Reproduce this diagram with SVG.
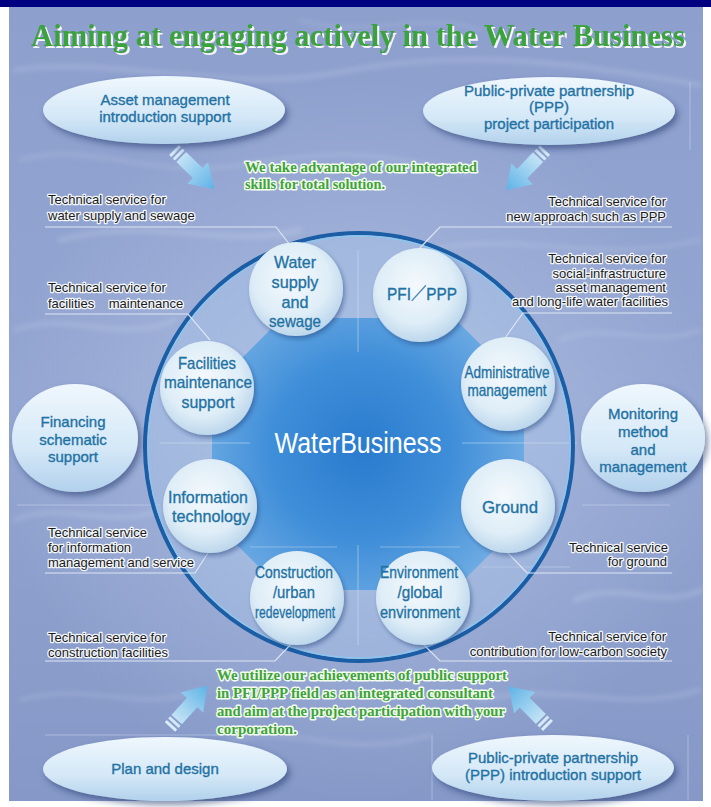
<svg xmlns="http://www.w3.org/2000/svg" width="711" height="807" viewBox="0 0 711 807">
<defs>
<style>
.lbl{font-family:"Liberation Sans",Arial,sans-serif;font-size:13px;fill:#1a1a1a;stroke:#f2f6fc;stroke-width:2.6px;stroke-linejoin:round;paint-order:stroke}
.r{text-anchor:end}
.nt{font-family:"Liberation Sans",Arial,"Noto Sans CJK JP",sans-serif;fill:#1f72a4;stroke:#1f72a4;stroke-width:0.35px;text-anchor:middle;font-size:17px}
.et{font-size:15px}
.gr{font-family:"Liberation Serif","Times New Roman",serif;font-weight:bold;font-size:15px;fill:#3ea33a;stroke:#f3fbee;stroke-width:3px;stroke-linejoin:round;paint-order:stroke}
.conn{fill:none;stroke:#dde5f4;stroke-width:1.2px}
.deco{fill:none;stroke:#c9d4ee;stroke-width:1px;opacity:.55}
.ell{fill:url(#ellG);filter:url(#sh)}
.cir{fill:url(#cirG);filter:url(#sh2)}
.tex{fill:none;stroke:#e6eefa;stroke-linecap:round}
</style>
<linearGradient id="bgG" x1="0" y1="0" x2="0" y2="1">
<stop offset="0" stop-color="#8d9fcd"/>
<stop offset="0.5" stop-color="#93a5d1"/>
<stop offset="1" stop-color="#8598c7"/>
</linearGradient>
<radialGradient id="glowG" cx="360" cy="440" r="360" gradientUnits="userSpaceOnUse">
<stop offset="0" stop-color="#c0d0ec" stop-opacity="0.6"/>
<stop offset="1" stop-color="#c0d0ec" stop-opacity="0"/>
</radialGradient>
<linearGradient id="ellG" x1="0" y1="0" x2="0" y2="1">
<stop offset="0" stop-color="#eff7fd"/>
<stop offset="0.6" stop-color="#d4e8f7"/>
<stop offset="1" stop-color="#b2d1ec"/>
</linearGradient>
<radialGradient id="cirG" cx="0.45" cy="0.4" r="0.62">
<stop offset="0" stop-color="#f4f9fd"/>
<stop offset="0.65" stop-color="#deedf7"/>
<stop offset="1" stop-color="#bad5eb"/>
</radialGradient>
<radialGradient id="hubG" cx="362" cy="450" r="200" gradientUnits="userSpaceOnUse">
<stop offset="0" stop-color="#2a7bcf"/>
<stop offset="0.45" stop-color="#3f8ed9"/>
<stop offset="0.8" stop-color="#6aa9e2"/>
<stop offset="1" stop-color="#8cc0ea"/>
</radialGradient>
<linearGradient id="arrG" x1="0" y1="0" x2="58" y2="0" gradientUnits="userSpaceOnUse">
<stop offset="0" stop-color="#d9edf9"/>
<stop offset="1" stop-color="#58b0e6"/>
</linearGradient>
<filter id="sh" x="-20%" y="-30%" width="140%" height="170%">
<feGaussianBlur in="SourceAlpha" stdDeviation="3"/>
<feOffset dx="3" dy="4" result="b"/>
<feFlood flood-color="#22386e" flood-opacity="0.55"/>
<feComposite in2="b" operator="in"/>
<feMerge><feMergeNode/><feMergeNode in="SourceGraphic"/></feMerge>
</filter>
<filter id="sh2" x="-30%" y="-30%" width="160%" height="160%">
<feGaussianBlur in="SourceAlpha" stdDeviation="2"/>
<feOffset dx="2" dy="3" result="b"/>
<feFlood flood-color="#1d3d7a" flood-opacity="0.45"/>
<feComposite in2="b" operator="in"/>
<feMerge><feMergeNode/><feMergeNode in="SourceGraphic"/></feMerge>
</filter>
<filter id="tsh" x="-5%" y="-30%" width="110%" height="160%">
<feOffset in="SourceAlpha" dx="2" dy="2" result="o"/>
<feFlood flood-color="#ffffff" flood-opacity="0.9"/>
<feComposite in2="o" operator="in"/>
<feMerge><feMergeNode/><feMergeNode in="SourceGraphic"/></feMerge>
</filter>
<filter id="blur" x="-10%" y="-10%" width="120%" height="120%">
<feGaussianBlur stdDeviation="2.5"/>
</filter>
<g id="arrow">
<rect x="0" y="-7" width="3" height="14" fill="#d9edf9"/>
<rect x="5" y="-7" width="3" height="14" fill="#d2e9f8"/>
<polygon points="10,-7 33,-7 33,-15 56,0 33,15 33,7 10,7" fill="url(#arrG)"/>
</g>
</defs>

<rect x="0" y="0" width="711" height="807" fill="#ffffff"/>
<rect x="0" y="0" width="711" height="7" fill="#000080"/>

<g id="background">
<rect x="9" y="7" width="694" height="794" fill="url(#bgG)"/>
<rect x="9" y="7" width="694" height="794" fill="url(#glowG)"/>
<g filter="url(#blur)" opacity="0.2">
<path class="tex" stroke-width="4" d="M15 70 C 120 55, 220 95, 340 72 S 560 60, 700 85"/>
<path class="tex" stroke-width="3" d="M20 160 C 90 140, 150 180, 240 165 S 380 150, 470 175"/>
<path class="tex" stroke-width="5" d="M60 240 C 150 215, 230 250, 300 230"/>
<path class="tex" stroke-width="3" d="M430 250 C 520 230, 600 265, 700 240"/>
<path class="tex" stroke-width="4" d="M15 330 C 70 310, 120 345, 175 320"/>
<path class="tex" stroke-width="3" d="M560 340 C 610 320, 650 350, 700 330"/>
<path class="tex" stroke-width="4" d="M15 520 C 60 500, 110 530, 160 510"/>
<path class="tex" stroke-width="5" d="M575 600 C 620 580, 660 610, 702 590"/>
<path class="tex" stroke-width="3" d="M20 700 C 90 680, 140 715, 200 690"/>
<path class="tex" stroke-width="4" d="M480 700 C 560 680, 620 715, 700 690"/>
<path class="tex" stroke-width="3" d="M230 740 C 300 725, 350 760, 430 735"/>
<path class="tex" stroke-width="2" d="M300 20 C 360 40, 420 10, 480 30"/>
</g>
</g>

<g id="title">
<text x="31" y="46" font-family="'Liberation Serif','Times New Roman',serif" font-weight="bold" font-size="31" fill="#3ba33b" filter="url(#tsh)" textLength="654" lengthAdjust="spacingAndGlyphs">Aiming at engaging actively in the Water Business</text>
</g>

<g id="decor-lines">
<line class="deco" x1="17" y1="505" x2="160" y2="505"/>
<line class="deco" x1="582" y1="505" x2="670" y2="505"/>
<line class="deco" x1="482" y1="567" x2="570" y2="567"/>
<line class="deco" x1="45" y1="735" x2="275" y2="735"/>
<line class="deco" x1="432" y1="735" x2="432" y2="800"/>
<line class="deco" x1="688" y1="735" x2="688" y2="800"/>
<line class="deco" x1="690" y1="82" x2="690" y2="150"/>
</g>

<g id="hub">
<circle cx="359" cy="447" r="214" fill="#b0cdf0" fill-opacity="0.3"/>
<polygon points="282,318 454,318 524,388 524,520 454,590 282,590 212,520 212,388" fill="url(#hubG)"/>
<line x1="358" y1="250" x2="358" y2="352" stroke="#d6e6f6" stroke-opacity="0.5"/>
<line x1="358" y1="545" x2="358" y2="645" stroke="#d6e6f6" stroke-opacity="0.5"/>
<line x1="160" y1="443" x2="250" y2="443" stroke="#d6e6f6" stroke-opacity="0.5"/>
<line x1="462" y1="443" x2="577" y2="443" stroke="#d6e6f6" stroke-opacity="0.5"/>
<line x1="250" y1="547" x2="337" y2="547" stroke="#d6e6f6" stroke-opacity="0.4"/>
<line x1="380" y1="547" x2="460" y2="547" stroke="#d6e6f6" stroke-opacity="0.4"/>
<circle cx="359" cy="447" r="214" fill="none" stroke="#1b5ea6" stroke-width="4"/>
<circle cx="359" cy="447" r="211" fill="none" stroke="#8cc6ee" stroke-width="1.3"/>
<text x="358" y="453" font-family="'Liberation Sans',Arial,sans-serif" font-size="29" fill="#ffffff" text-anchor="middle" textLength="167" lengthAdjust="spacingAndGlyphs">WaterBusiness</text>
</g>

<g id="connectors">
<polyline class="conn" points="45,227 276,227 294,250"/>
<polyline class="conn" points="672,227 440,227 418,250"/>
<polyline class="conn" points="45,314 188,314 210,340"/>
<polyline class="conn" points="672,313 523,313 505,338"/>
<polyline class="conn" points="45,573 195,573 208,553"/>
<polyline class="conn" points="672,573 527,573 505,550"/>
<polyline class="conn" points="45,661 275,661 293,642"/>
<polyline class="conn" points="672,661 440,661 420,641"/>
<use href="#arrow" transform="translate(174,150) rotate(44)"/>
<use href="#arrow" transform="translate(545,150) rotate(134)"/>
<use href="#arrow" transform="translate(170,727) rotate(-48)"/>
<use href="#arrow" transform="translate(548,726) rotate(-135)"/>
</g>

<g id="node-asset">
<ellipse class="ell" cx="164" cy="110" rx="121" ry="34"/>
<text class="nt et" x="165" y="105">Asset management</text>
<text class="nt et" x="165" y="122">introduction support</text>
</g>
<g id="node-ppp-project">
<ellipse class="ell" cx="549" cy="111" rx="126" ry="34"/>
<text class="nt et" x="549" y="96">Public-private partnership</text>
<text class="nt et" x="549" y="112">(PPP)</text>
<text class="nt et" x="549" y="129">project participation</text>
</g>
<g id="node-financing">
<ellipse class="ell" cx="75" cy="438" rx="63" ry="54"/>
<text class="nt et" x="73" y="427">Financing</text>
<text class="nt et" x="73" y="445">schematic</text>
<text class="nt et" x="73" y="462">support</text>
</g>
<g id="node-monitoring">
<ellipse class="ell" cx="643" cy="438" rx="62" ry="54"/>
<text class="nt et" x="643" y="419">Monitoring</text>
<text class="nt et" x="643" y="437">method</text>
<text class="nt et" x="643" y="455">and</text>
<text class="nt et" x="643" y="472">management</text>
</g>
<g id="node-plan">
<ellipse class="ell" cx="165" cy="769" rx="122" ry="32"/>
<text class="nt et" x="165" y="774">Plan and design</text>
</g>
<g id="node-ppp-intro">
<ellipse class="ell" cx="553" cy="768" rx="121" ry="33"/>
<text class="nt et" x="553" y="763">Public-private partnership</text>
<text class="nt et" x="553" y="780">(PPP) introduction support</text>
</g>

<g id="node-water">
<circle class="cir" cx="296" cy="289" r="47"/>
<text class="nt" x="295" y="268" textLength="42" lengthAdjust="spacingAndGlyphs">Water</text>
<text class="nt" x="295" y="288" textLength="47" lengthAdjust="spacingAndGlyphs">supply</text>
<text class="nt" x="295" y="308" textLength="27" lengthAdjust="spacingAndGlyphs">and</text>
<text class="nt" x="295" y="327" textLength="52" lengthAdjust="spacingAndGlyphs">sewage</text>
</g>
<g id="node-pfi">
<circle class="cir" cx="420" cy="295" r="47"/>
<text class="nt" x="422" y="300" font-size="18" textLength="70" lengthAdjust="spacingAndGlyphs">PFI／PPP</text>
</g>
<g id="node-facilities">
<circle class="cir" cx="207" cy="388" r="47"/>
<text class="nt" x="207" y="369" font-size="16.5" textLength="58" lengthAdjust="spacingAndGlyphs">Facilities</text>
<text class="nt" x="208" y="388" font-size="13.5" textLength="88" lengthAdjust="spacingAndGlyphs">maintenance</text>
<text class="nt" x="208" y="408" font-size="16.5" textLength="53" lengthAdjust="spacingAndGlyphs">support</text>
</g>
<g id="node-admin">
<circle class="cir" cx="508" cy="384" r="47"/>
<text class="nt" x="507" y="378" font-size="15" textLength="85" lengthAdjust="spacingAndGlyphs">Administrative</text>
<text class="nt" x="507" y="396" font-size="15" textLength="79" lengthAdjust="spacingAndGlyphs">management</text>
</g>
<g id="node-info">
<circle class="cir" cx="210" cy="506" r="47"/>
<text class="nt" x="208" y="503" textLength="80" lengthAdjust="spacingAndGlyphs">Information</text>
<text class="nt" x="211" y="522" textLength="78" lengthAdjust="spacingAndGlyphs">technology</text>
</g>
<g id="node-ground">
<circle class="cir" cx="508" cy="506" r="47"/>
<text class="nt" x="510" y="513" font-size="18" textLength="56" lengthAdjust="spacingAndGlyphs">Ground</text>
</g>
<g id="node-construction">
<circle class="cir" cx="297" cy="598" r="47"/>
<text class="nt" x="294" y="578" textLength="78" lengthAdjust="spacingAndGlyphs">Construction</text>
<text class="nt" x="294" y="598" textLength="42" lengthAdjust="spacingAndGlyphs">/urban</text>
<text class="nt" x="295" y="618" font-size="16" textLength="80" lengthAdjust="spacingAndGlyphs">redevelopment</text>
</g>
<g id="node-environment">
<circle class="cir" cx="423" cy="598" r="47"/>
<text class="nt" x="419" y="578" textLength="78" lengthAdjust="spacingAndGlyphs">Environment</text>
<text class="nt" x="420" y="598" textLength="45" lengthAdjust="spacingAndGlyphs">/global</text>
<text class="nt" x="420" y="618" font-size="16" textLength="80" lengthAdjust="spacingAndGlyphs">environment</text>
</g>

<g id="labels">
<text class="lbl" x="48" y="204">Technical service for</text>
<text class="lbl" x="48" y="220">water supply and sewage</text>
<text class="lbl" x="48" y="292">Technical service for</text>
<text class="lbl" x="48" y="308" xml:space="preserve">facilities    maintenance</text>
<text class="lbl" x="48" y="537">Technical service</text>
<text class="lbl" x="48" y="552">for information</text>
<text class="lbl" x="48" y="567">management and service</text>
<text class="lbl" x="48" y="642">Technical service for</text>
<text class="lbl" x="48" y="657">construction facilities</text>
<text class="lbl r" x="666" y="206">Technical service for</text>
<text class="lbl r" x="666" y="221">new approach such as PPP</text>
<text class="lbl r" x="666" y="263">Technical service for</text>
<text class="lbl r" x="666" y="278">social-infrastructure</text>
<text class="lbl r" x="666" y="292">asset management</text>
<text class="lbl r" x="668" y="306">and long-life water facilities</text>
<text class="lbl r" x="668" y="552">Technical service</text>
<text class="lbl r" x="667" y="566">for ground</text>
<text class="lbl r" x="666" y="641">Technical service for</text>
<text class="lbl r" x="667" y="656">contribution for low-carbon society</text>
</g>

<g id="messages">
<text class="gr" x="245" y="172" font-size="14" textLength="232" lengthAdjust="spacingAndGlyphs">We take advantage of our integrated</text>
<text class="gr" x="245" y="189" font-size="14" textLength="140" lengthAdjust="spacingAndGlyphs">skills for total solution.</text>
<text class="gr" x="217" y="680" textLength="290" lengthAdjust="spacingAndGlyphs">We utilize our achievements of public support</text>
<text class="gr" x="217" y="698" textLength="276" lengthAdjust="spacingAndGlyphs">in PFI/PPP field as an integrated consultant</text>
<text class="gr" x="217" y="716" textLength="288" lengthAdjust="spacingAndGlyphs">and aim at the project participation with your</text>
<text class="gr" x="217" y="734" textLength="80" lengthAdjust="spacingAndGlyphs">corporation.</text>
</g>
</svg>
